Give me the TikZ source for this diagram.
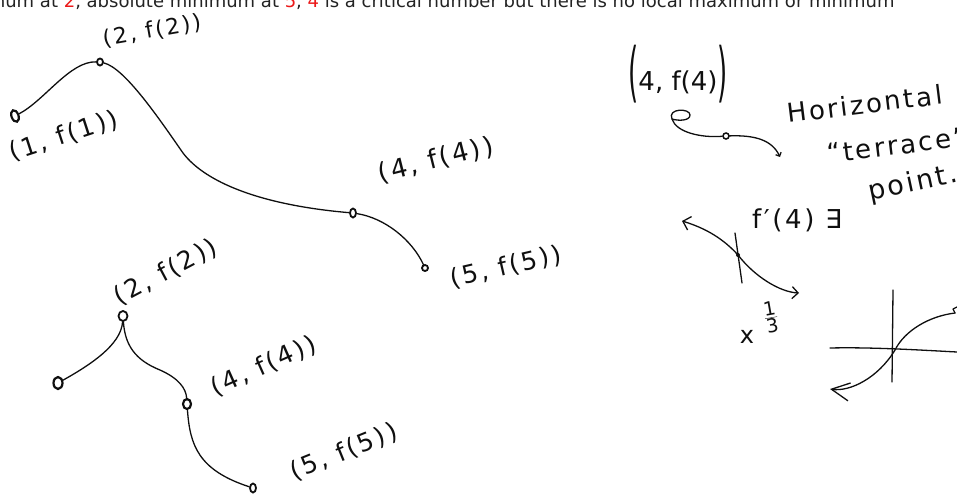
\documentclass[tikz,border=0pt]{standalone}
\usepackage{fontspec}
\usepackage{graphicx}
\setmainfont{DejaVu Sans}
\usetikzlibrary{arrows.meta,shapes.geometric}
\definecolor{ink}{RGB}{15,15,15}
\definecolor{txt}{RGB}{35,35,35}
\definecolor{hl}{RGB}{235,25,25}
\newcommand{\fsz}[1]{\fontsize{#1}{#1}\selectfont}
\newcommand{\spread}{\addfontfeature{LetterSpace=10}}
\newcommand{\bigpar}[1]{\raisebox{-4.5pt}{\scalebox{1}[2.5]{#1}}}
\begin{document}
\begin{tikzpicture}[x=1pt,y=-1pt,
  curve/.style={draw=ink, line width=1.3pt, line cap=round, line join=round},
  pt/.style={draw=ink, ellipse, line width=1.8pt, minimum width=6pt, minimum height=7pt, inner sep=0pt},
  dotpt/.style={fill=ink, circle, minimum size=4pt, inner sep=0pt},
  hand/.style={text=ink, inner sep=0pt, font=\fsz{25}\spread},
  barbs/.style={{Straight Barb[length=7pt,width=14pt,line width=1.3pt]}-{Straight Barb[length=6pt,width=12pt,line width=1.3pt]}},
  barbstart/.style={{Straight Barb[length=18pt,width=18pt,line width=1.3pt]}-},
  tick/.style={-{Straight Barb[length=3pt,width=6pt,line width=1.3pt]}}
]
\useasboundingbox (0,0) rectangle (957,493);

% header text (partly cut off at the top)
\node[anchor=base west, inner sep=0pt, font=\fsz{18}, text=txt] (hdr) at (-12.4,7.5)
  {mum at \textcolor{hl}{2}, absolute minimum at \textcolor{hl}{5}, \textcolor{hl}{4} is a critical number but there is no local maximum or minimum};

% ---------- graph 1 ----------
\node[pt, minimum width=7pt, minimum height=12pt, line width=2.2pt, rotate=20] (A1) at (15,116) {};
\node[pt] (A2) at (100,62) {};
\node[pt, minimum height=9pt] (A4) at (353,213) {};
\node[pt, minimum width=6pt, minimum height=6pt] (A5) at (425,268) {};
\draw[curve] (A1) .. controls (45,100) and (70,61) .. (A2);
\draw[curve] (A2) .. controls (125,68) and (160,120) .. (183,153) .. controls (205,182) and (260,205) .. (A4);
\draw[curve] (A4) .. controls (385,218) and (412,240) .. (A5);
\node[hand, rotate=18] (L1) at (64,136) {(1, f(1))};
\node[hand, font=\fsz{22}\spread, rotate=10] (L2) at (152,31) {(2, f(2))};
\node[hand, font=\fsz{26}\spread, rotate=14] (L3) at (436,160) {(4, f(4))};
\node[hand, rotate=13] (L4) at (506,267) {(5, f(5))};

% ---------- graph 2 ----------
\node[pt, minimum width=9pt, minimum height=10pt] (B2) at (123,316) {};
\node[pt, minimum width=9pt, minimum height=12pt, line width=2.2pt] (B1) at (58,383) {};
\node[pt, minimum width=8pt, minimum height=10pt, line width=2.2pt] (B4) at (187,404) {};
\node[pt, minimum width=6pt, minimum height=9pt] (B5) at (253,488) {};
\draw[curve] (B2) .. controls (121,345) and (90,365) .. (B1);
\draw[curve] (B2) .. controls (125,345) and (135,360) .. (160,370) .. controls (178,378) and (186,388) .. (B4);
\draw[curve] (B4) .. controls (190,445) and (198,470) .. (B5);
\node[hand, font=\fsz{25}\spread, rotate=28] (L5) at (166,272) {(2, f(2))};
\node[hand, rotate=24] (L6) at (264,366) {(4, f(4))};
\node[hand, rotate=22] (L7) at (344,452) {(5, f(5))};

% ---------- terrace point sketch ----------
\node[hand, font=\fsz{26}, anchor=base] (R1) at (678,90) {\bigpar{(}4, f(4)\bigpar{)}};
\coordinate (T0) at (672,119);
\coordinate (T2) at (780,157);
\node[pt, minimum width=6pt, minimum height=6pt, line width=1.5pt] (T1) at (726,136) {};
\draw[curve] (T0) .. controls (667,108) and (690,108) .. (690,115) .. controls (690,121) and (678,121) .. (T0);
\draw[curve] (T0) .. controls (676,132) and (700,138) .. (T1);
\draw[curve, tick] (T1) .. controls (755,135) and (772,140) .. (T2);
\node[hand, font=\fsz{26}\spread, anchor=base west, rotate=7] (R2) at (788,123) {Horizontal};
\node[hand, font=\fsz{26}\spread, anchor=base west, rotate=7] (R3) at (828,163) {“terrace”};
\node[hand, font=\fsz{27}\spread, anchor=base west, rotate=12] (R4) at (870,201) {point.};
\node[hand, font=\fsz{26}\spread] (R5) at (797,220) {f′(4) ∃};

% ---------- x^(1/3) sketch ----------
\coordinate (Q0) at (682,221);
\coordinate (Qd) at (738,255);
\coordinate (Q1) at (799,293);
\draw[curve, barbs] (Q0) .. controls (712,230) and (728,244) .. (Qd) .. controls (755,277) and (780,292) .. (Q1);
\node[dotpt] (Qdot) at (Qd) {};
\coordinate (V0) at (735,233);
\coordinate (V1) at (742,283);
\draw[curve] (V0) -- (V1);
\node[hand, font=\fsz{24}] (LX) at (747,337) {x};
\node[hand, font=\fsz{19}, rotate=10] (LF) at (771,317) {$\frac{\mbox{1}}{\mbox{3}}$};

% ---------- cube-root graph ----------
\coordinate (H0) at (830,348);
\coordinate (H1) at (957,352);
\coordinate (V2) at (893,290);
\coordinate (V3) at (892,382);
\coordinate (C0) at (830,389);
\coordinate (O) at (895,350);
\coordinate (C1) at (955,313);
\draw[curve] (H0) .. controls (870,347) and (920,350) .. (H1);
\draw[curve] (V2) -- (V3);
\draw[curve, barbstart] (C0) .. controls (850,392) and (878,378) .. (O) .. controls (905,330) and (930,316) .. (C1);
\draw[curve] (C1) -- (953,309) -- (957,307);
\end{tikzpicture}
\end{document}
